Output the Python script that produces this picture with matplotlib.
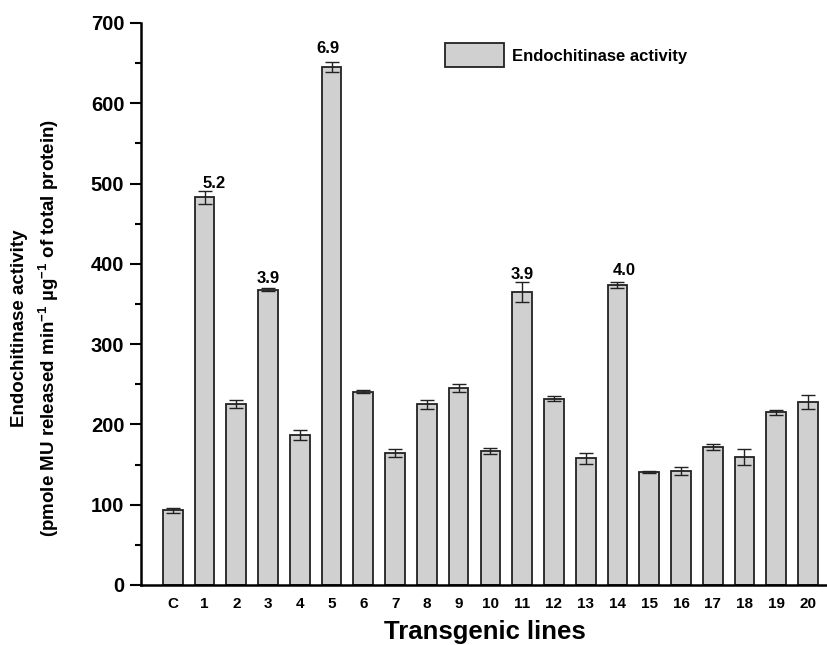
import numpy as np
import matplotlib
matplotlib.use("Agg")
import matplotlib.pyplot as plt

plt.rcParams['font.family'] = ['Liberation Sans', 'DejaVu Sans']
plt.rcParams['font.weight'] = 'bold'
plt.rcParams['mathtext.fontset'] = 'custom'
plt.rcParams['mathtext.rm'] = 'Liberation Sans:bold'
plt.rcParams['mathtext.it'] = 'Liberation Sans:bold'
plt.rcParams['mathtext.bf'] = 'Liberation Sans:bold'

lines = ["C"] + [str(i) for i in range(1, 21)]
activity = [93, 483, 225, 368, 187, 645, 241, 164, 225, 245, 167,
            365, 232, 158, 374, 141, 142, 172, 159, 215, 228]
err = [3, 8, 5, 2, 6, 6, 2, 5, 6, 5, 4,
       12, 3, 7, 4, 1, 5, 4, 10, 3, 9]

# fold increase labels over selected lines
fold_idx = [1, 3, 5, 11, 14]
fold_txt = ["5.2", "3.9", "6.9", "3.9", "4.0"]
fold_dx = [0.3, 0.0, -0.1, 0.0, 0.22]
fold_dy = [0, 2, 8, 0, 4]

fig = plt.figure(figsize=(8.28, 6.45), dpi=100)
ax = fig.add_axes([141/828, 1 - 585/645, 1 - 141/828, (585 - 23)/645])

x = np.arange(len(lines))
ax.bar(x, activity, width=0.62, color='#d0d0d0', edgecolor='#222222',
       linewidth=1.3, label='Endochitinase activity', zorder=2)
ax.errorbar(x, activity, yerr=err, fmt='none', ecolor='#222222',
            elinewidth=1, capsize=5, capthick=1, zorder=3)

for i, t, dx, dy in zip(fold_idx, fold_txt, fold_dx, fold_dy):
    ax.text(i + dx, activity[i] + err[i] + dy, t, ha='center', va='bottom',
            fontsize=12, fontweight='bold')

ax.set_xlim(-1.0, 20.63)
ax.set_ylim(0, 700)
ax.set_xticks(x)
ax.set_xticklabels(lines, fontsize=11, fontweight='bold')
ax.set_xticks([4, 9, 14, 19], minor=True)
ax.tick_params(axis='x', which='major', length=0, pad=9)
ax.tick_params(axis='x', which='minor', length=3, width=1)
ax.set_yticks(np.arange(0, 701, 100))
ax.set_yticks(np.arange(50, 700, 100), minor=True)
ax.tick_params(axis='y', which='major', length=8, width=1.5, labelsize=14.5, pad=4)
ax.tick_params(axis='y', which='minor', length=4, width=1.5)
for lab in ax.get_yticklabels():
    lab.set_fontweight('bold')

ax.spines['top'].set_visible(False)
ax.spines['right'].set_visible(False)
ax.spines['left'].set_linewidth(1.8)
ax.spines['bottom'].set_linewidth(1.8)

ax.set_xlabel("Transgenic lines", fontsize=18.5, fontweight='bold', labelpad=6)
fig.text(36/828, 0.491,
         "Endochitinase activity\n(pmole MU released min$^{-1}$ µg$^{-1}$ of total protein)",
         rotation=90, ha='center', va='center', multialignment='center',
         fontsize=13.5, fontweight='bold', linespacing=1.5)

ax.legend(loc='upper left', bbox_to_anchor=(437/828, 1 - 35/645),
          bbox_transform=fig.transFigure, frameon=False, fontsize=12,
          handlelength=3.5, handleheight=1.8, handletextpad=0.5, borderpad=0)

fig.savefig("out.png", dpi=100)
